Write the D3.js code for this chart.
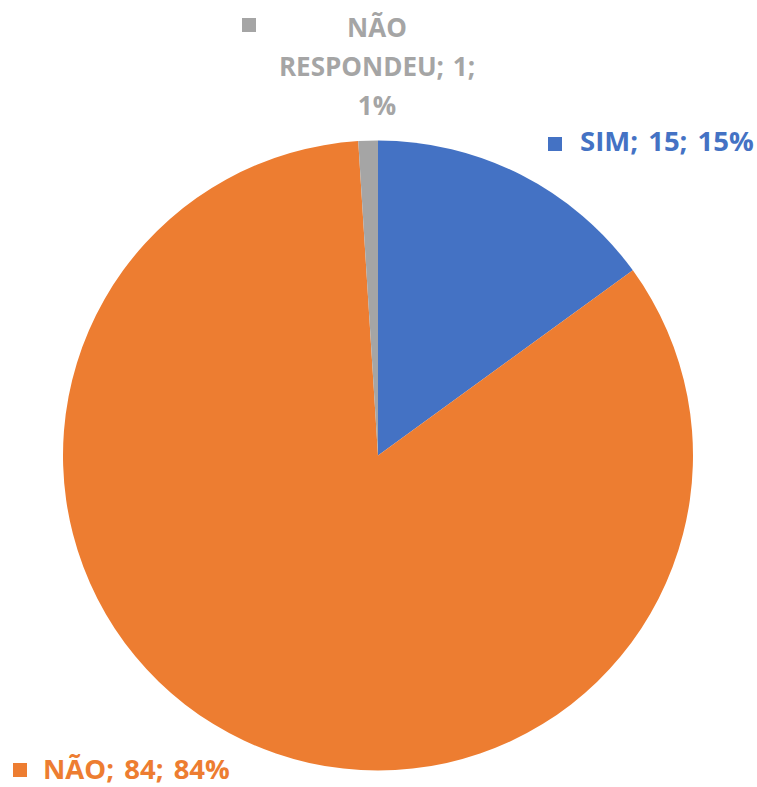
<!DOCTYPE html>
<html>
<head>
<meta charset="utf-8">
<script src="https://cdn.jsdelivr.net/npm/d3@7"></script>
<style>
  html, body { margin: 0; padding: 0; background: #fff; }
  svg { display: block; }
  text { font-family: "Open Sans", Lato, sans-serif; font-weight: bold; }
</style>
</head>
<body>
<svg id="chart" width="757" height="787"></svg>
<script>
// Survey answers
const categories = ["SIM", "NÃO", "NÃO RESPONDEU"];
const counts = [15, 84, 1];
const percents = ["15%", "84%", "1%"];
const colors = ["#4472C4", "#ED7D31", "#A5A5A5"];

const cx = 378, cy = 455.5, radius = 315;

const svg = d3.select("#chart");
const g = svg.append("g").attr("transform", `translate(${cx},${cy})`);

// Slices run clockwise from 12 o'clock in category order
const pie = d3.pie().sort(null).value(d => d.count);
const arc = d3.arc().innerRadius(0).outerRadius(radius);

const data = categories.map((c, i) => ({ name: c, count: counts[i], pct: percents[i], color: colors[i] }));
const arcs = pie(data);

g.selectAll("path.slice")
  .data(arcs)
  .join("path")
  .attr("class", "slice")
  .attr("d", arc)
  .attr("fill", d => d.data.color);

// Data labels: key square + "name; value; percent"
const lineText = d => `${d.name}; ${d.count}; ${d.pct}`;
const labelSpecs = [
  { idx: 0, key: [548, 137], fs: 27.5, ws: 3,
    lines: [{ text: lineText(data[0]), x: 580, y: 151, anchor: "start" }] },
  { idx: 1, key: [13, 763], fs: 27.5, ws: 3,
    lines: [{ text: lineText(data[1]), x: 43, y: 779, anchor: "start" }] },
  { idx: 2, key: [242, 18], fs: 26, ws: 2, lines: [
      { text: "NÃO", x: 377, y: 37, anchor: "middle" },
      { text: `RESPONDEU; ${data[2].count};`, x: 377, y: 76, anchor: "middle" },
      { text: data[2].pct, x: 377, y: 115, anchor: "middle" }
  ] }
];

labelSpecs.forEach(spec => {
  const col = data[spec.idx].color;
  svg.append("rect")
    .attr("x", spec.key[0]).attr("y", spec.key[1])
    .attr("width", 14).attr("height", 14)
    .attr("fill", col);
  spec.lines.forEach(l => {
    svg.append("text")
      .attr("x", l.x).attr("y", l.y)
      .attr("text-anchor", l.anchor)
      .attr("font-size", spec.fs)
      .attr("word-spacing", spec.ws)
      .attr("fill", col)
      .text(l.text);
  });
});
</script>
</body>
</html>
